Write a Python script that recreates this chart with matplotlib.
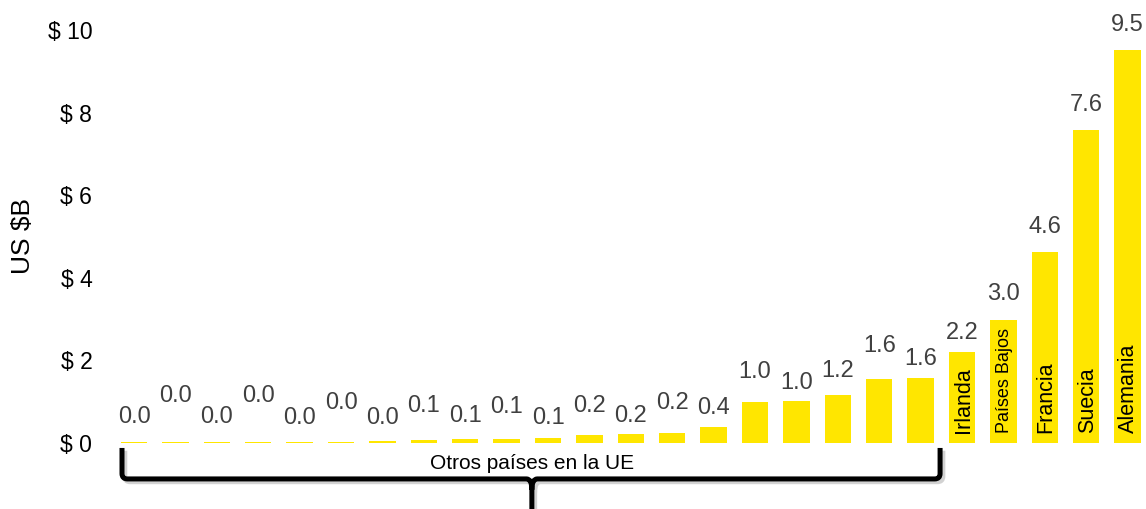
import matplotlib
matplotlib.use("Agg")
import matplotlib.pyplot as plt
from matplotlib import font_manager
from matplotlib.path import Path
from matplotlib.patches import PathPatch
from matplotlib.transforms import blended_transform_factory
import matplotlib.patheffects as pe

# ---- data ---------------------------------------------------------------
countries = [
    "", "", "", "", "", "", "", "", "", "", "",
    "", "", "", "", "", "", "", "", "",
    "Irlanda", "Países Bajos", "Francia", "Suecia", "Alemania",
]
values = [
    0.02, 0.02, 0.02, 0.02, 0.03, 0.03, 0.04, 0.07, 0.09, 0.10, 0.11,
    0.19, 0.21, 0.24, 0.38, 0.99, 1.02, 1.16, 1.56, 1.58,
    2.20, 2.97, 4.63, 7.57, 9.51,
]
y_ticks = [0, 2, 4, 6, 8, 10]
group_label = "Otros países en la UE"
y_label = "US $B"

# ---- layout -------------------------------------------------------------
# value labels are staggered so neighbouring numbers do not collide
label_offsets_px = [
    25, 46, 25, 46, 24, 39, 23, 34, 23, 32, 20,
    29, 18, 30, 19, 30, 18, 24, 33, 19,
    19, 26, 25, 25, 25,
]
bar_color = "#FFE600"
value_color = "#404040"

plt.rcParams["font.family"] = ["Liberation Sans", "DejaVu Sans"]
available = {f.name for f in font_manager.fontManager.ttflist}
if "Liberation Sans Narrow" in available:
    inner_family = ["Liberation Sans Narrow", "Liberation Sans"]
    inner_size, inner_size_small = 18, 16
else:
    inner_family = ["Liberation Sans", "DejaVu Sans"]
    inner_size, inner_size_small = 15.5, 13

W, H = 1146, 509
fig = plt.figure(figsize=(W / 100, H / 100), dpi=100)
ax = fig.add_axes([109 / W, 66 / H, 1037 / W, 413 / H])

x = list(range(len(values)))
ax.bar(x, values, width=0.635, color=bar_color, linewidth=0, zorder=2)

ax.set_xlim(-0.604, 24.444)
ax.set_ylim(0, 10)
ax.set_yticks(y_ticks)
ax.set_yticklabels([f"$ {t:g}" for t in y_ticks], fontsize=16.5, color="black")
ax.tick_params(axis="y", length=0, pad=12)
ax.set_xticks([])
for side in ax.spines.values():
    side.set_visible(False)

ax.set_ylabel(y_label, fontsize=19, color="black")
ax.yaxis.set_label_coords(-0.071, 0.5)

# value labels above each bar
for i, v in enumerate(values):
    ax.annotate(f"{v:.1f}", xy=(i, v), xytext=(0, label_offsets_px[i]),
                textcoords="offset pixels", ha="center", va="center",
                fontsize=17, color=value_color)

# country names written up the inside of the large bars
for i, name in enumerate(countries):
    if not name:
        continue
    size = inner_size_small if len(name) > 8 else inner_size
    ax.annotate(name, xy=(i, 0), xytext=(1, 10), textcoords="offset pixels",
                rotation=90, ha="center", va="bottom", fontsize=size,
                family=inner_family, color="black")

# bracket grouping the smaller countries
trans = blended_transform_factory(ax.transData, ax.transAxes)
xl, xr, xc = -0.29, 19.47, 9.61
top, mid, low = -0.012, -0.087, -0.165
rx, ry = 0.13, 0.013
verts = [
    (xl, top), (xl, mid + ry), (xl, mid), (xl + rx, mid),
    (xc - rx, mid), (xc, mid), (xc, mid - 2 * ry), (xc, low),
    (xc, mid - 2 * ry), (xc, mid), (xc + rx, mid),
    (xr - rx, mid), (xr, mid), (xr, mid + ry), (xr, top),
]
codes = [
    Path.MOVETO, Path.LINETO, Path.CURVE3, Path.CURVE3,
    Path.LINETO, Path.CURVE3, Path.CURVE3, Path.LINETO,
    Path.MOVETO, Path.CURVE3, Path.CURVE3,
    Path.LINETO, Path.CURVE3, Path.CURVE3, Path.LINETO,
]
brace = PathPatch(Path(verts, codes), transform=trans, fill=False,
                  edgecolor="black", linewidth=3.6, capstyle="butt",
                  joinstyle="round", clip_on=False, zorder=3)
brace.set_path_effects([
    pe.SimpleLineShadow(offset=(2, -2), shadow_color="gray", alpha=0.35),
    pe.Normal(),
])
ax.add_patch(brace)

ax.text(xc, -0.063, group_label, transform=trans, ha="center",
        va="baseline", fontsize=15, color="black", clip_on=False)

fig.savefig("out.png", dpi=100)
